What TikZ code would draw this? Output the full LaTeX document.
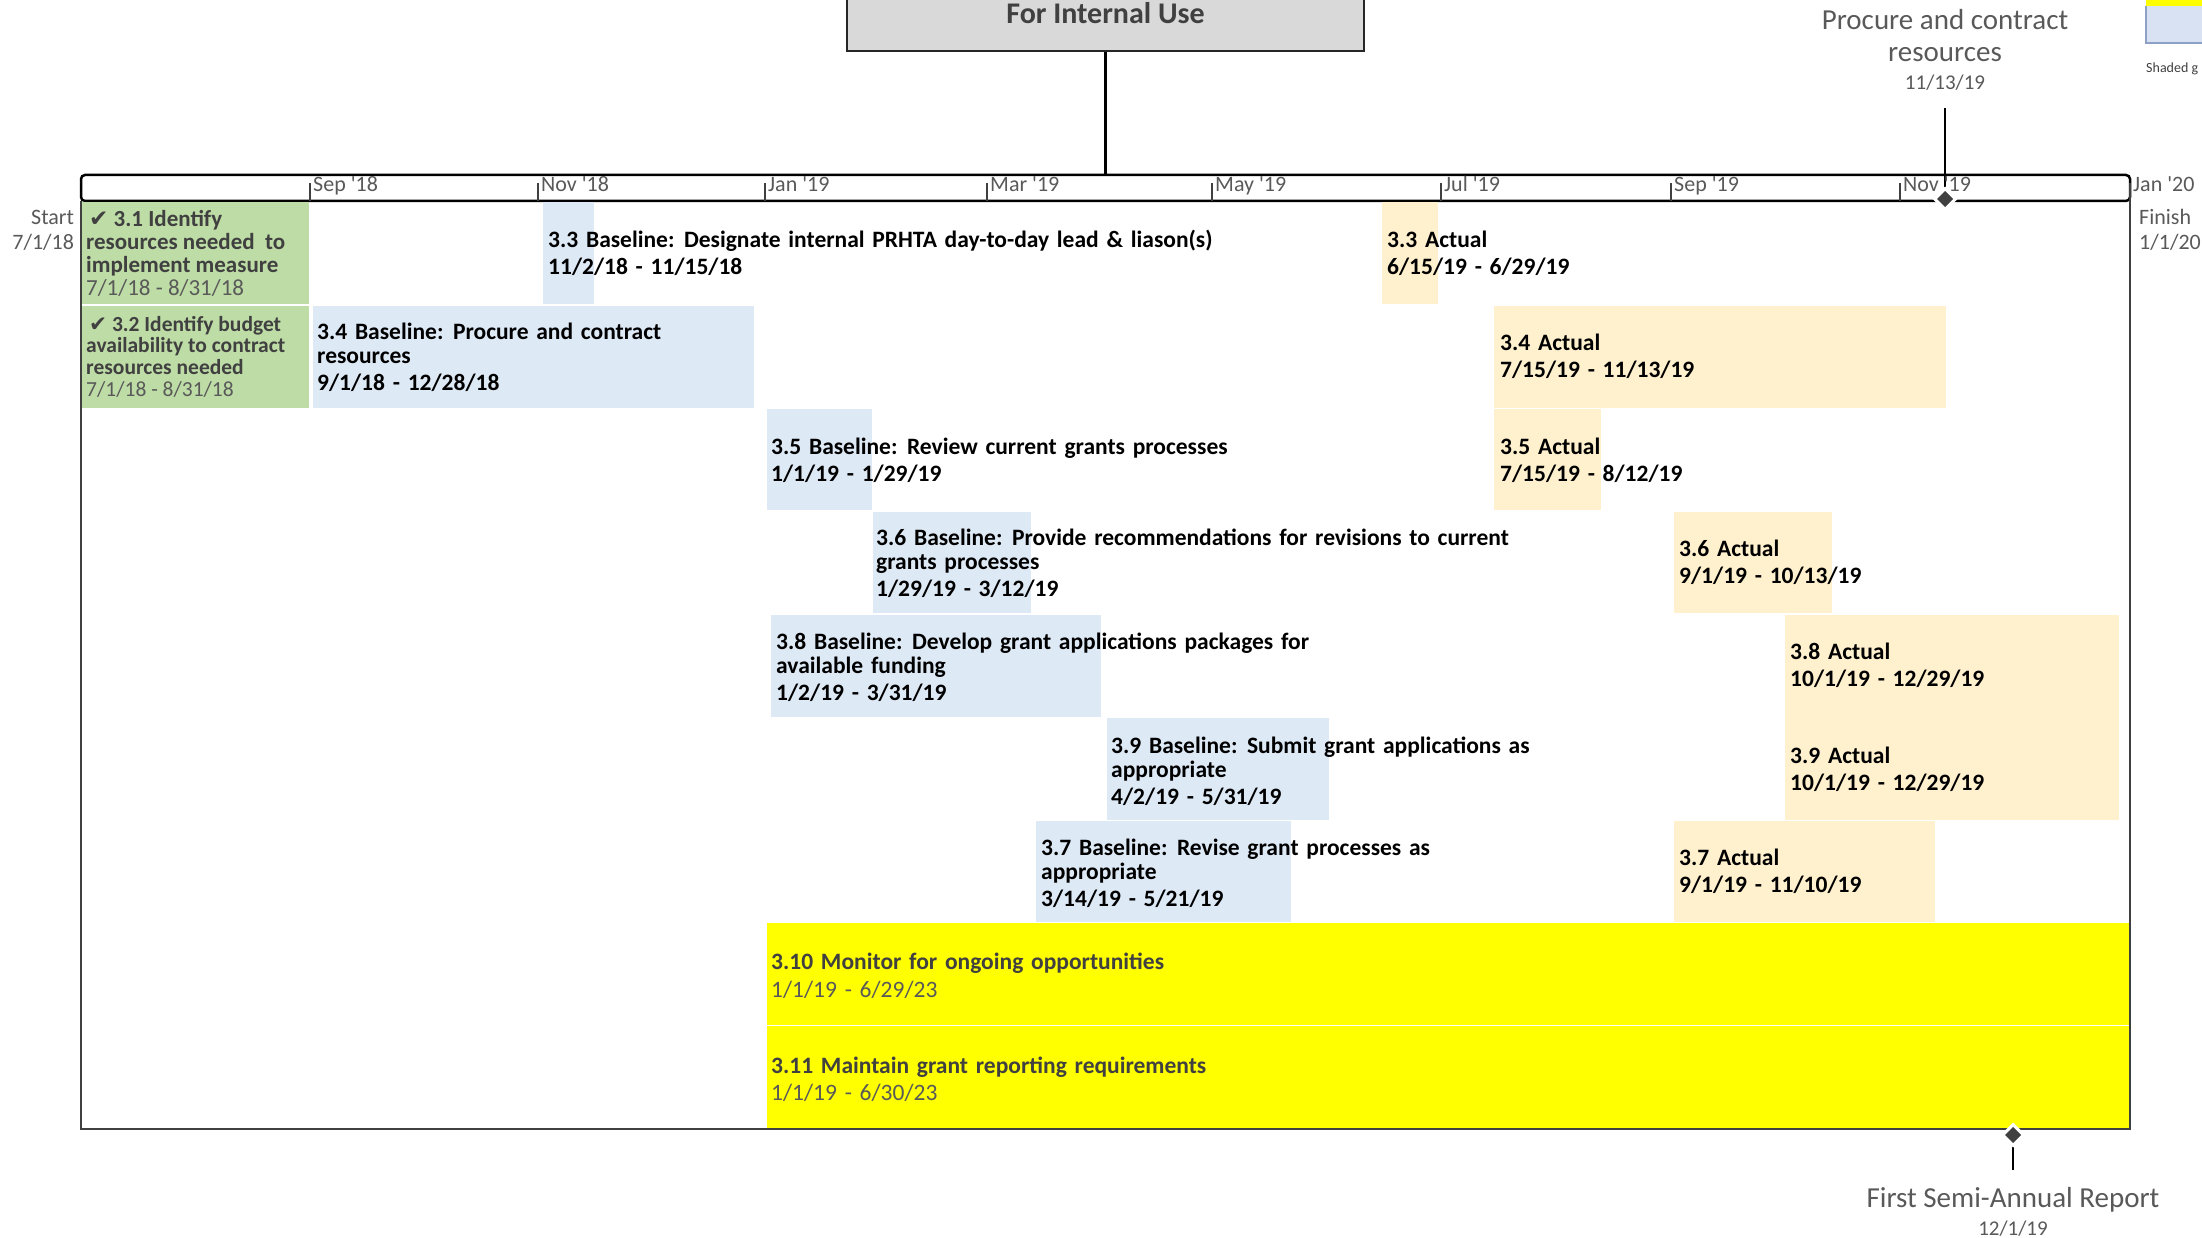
\documentclass[tikz,border=0pt]{standalone}
\usepackage{fontspec}
\setmainfont{Carlito}
\newfontfamily\symfont{DejaVu Sans}
\usetikzlibrary{shapes.geometric,backgrounds}
\definecolor{blbox}{RGB}{222,233,246}
\definecolor{acbox}{RGB}{255,241,206}
\definecolor{grbox}{RGB}{190,220,166}
\definecolor{ylbox}{RGB}{255,255,0}
\definecolor{gybox}{RGB}{217,217,217}
\definecolor{dtext}{RGB}{64,64,64}
\definecolor{mtext}{RGB}{89,89,89}
\definecolor{lgfill}{RGB}{216,226,242}
\definecolor{lgline}{RGB}{140,160,200}
\newcommand\tline[1]{\hbox{#1}}
\newcommand\dline[1]{\vskip3pt\hbox{#1}}
\newcommand\cenline[1]{\hbox to 0pt{\hss#1\hss}}
\newcommand\rgtline[1]{\hbox to 0pt{\hss#1}}
\newcommand\chk{{\symfont\bfseries\char"2714}}
\newcommand\widesp{\spaceskip=0.33em plus 0.1em minus 0.05em\relax}
\begin{document}
\begin{tikzpicture}[x=1pt,y=-1pt,
  boxn/.style={anchor=north west, inner sep=0pt, outer sep=0pt, draw=none},
  basebox/.style={boxn, fill=blbox},
  actbox/.style={boxn, fill=acbox},
  donebox/.style={boxn, fill=grbox},
  ongobox/.style={boxn, fill=ylbox},
  ttext/.style={anchor=base west, inner sep=0pt, font=\fontsize{23.5}{24}\selectfont\bfseries\widesp, text=black},
  gtext/.style={anchor=base west, inner sep=0pt, text=dtext},
  mlab/.style={anchor=base west, inner sep=0pt, font=\fontsize{22}{24}\selectfont, text=mtext},
  tickl/.style={draw=dtext, line width=1.5pt},
  frame/.style={draw=dtext, line width=2.5pt},
  conn/.style={draw=black, line width=2.5pt},
  ms/.style={diamond, fill=dtext, draw=white, line width=3pt, minimum size=22pt, inner sep=0pt},
  mslab/.style={anchor=base, inner sep=0pt, font=\fontsize{29}{32}\selectfont, text=mtext}
]
\useasboundingbox (0,0) rectangle (2202,1238);

% legend swatch (cut by the page edge)
\fill[lgfill] (2146,-2) rectangle (2210,43);
\fill[ylbox] (2146,-2) rectangle (2210,6);
\draw[lgline, line width=1.5pt] (2146,6) -- (2146,43) -- (2210,43);
\node[anchor=base west, inner sep=0pt, font=\fontsize{14}{16}\selectfont, text=dtext] (legtxt) at (2146,73) {Shaded g};

% For Internal Use
\node[anchor=south, draw=black!85, line width=2pt, fill=gybox, minimum width=517, minimum height=76, inner sep=0pt,
      font=\fontsize{30}{32}\selectfont\bfseries, text=dtext] (fiu) at (1105.5,52) {For Internal Use};

% timeline bar
\node[draw=black, line width=2.5pt, rounded corners=4pt, minimum width=2049, minimum height=26, inner sep=0pt, outer sep=0pt, anchor=north west] (bar) at (81,175) {};
\draw[conn] (fiu.south) -- (fiu.south |- bar.north);

\foreach \x/\lab [count=\i] in {310/Sep \textquotesingle 18, 538/Nov \textquotesingle 18, 765/Jan \textquotesingle 19, 987/Mar \textquotesingle 19, 1212/May \textquotesingle 19, 1441/Jul \textquotesingle 19, 1671/Sep \textquotesingle 19, 1900/Nov \textquotesingle 19, 2130/Jan \textquotesingle 20}{
  \draw[tickl] (\x,201) -- (\x,183);
  \node[mlab] (mon\i) at ({\x+3},192) {\lab};
}

% start / finish
\node[anchor=base, inner sep=0pt, font=\fontsize{22}{25}\selectfont, text=mtext] (startlab) at (74,225) {\vtop{\rgtline{Start}\rgtline{7/1/18}}};
\node[anchor=base west, inner sep=0pt, font=\fontsize{22}{25}\selectfont, text=mtext] (finlab) at (2139,225) {\vtop{\hbox{Finish}\hbox{1/1/20}}};

% task boxes
\node[donebox, minimum width=227, minimum height=102] (g31) at (82,202) {};
\node[donebox, minimum width=227, minimum height=102] (g32) at (82,306) {};
\node[basebox, minimum width=51, minimum height=102] (b33) at (543,202) {};
\node[actbox, minimum width=56, minimum height=102] (a33) at (1382,202) {};
\node[basebox, minimum width=441, minimum height=102] (b34) at (313,306) {};
\node[actbox, minimum width=452, minimum height=102] (a34) at (1494,306) {};
\node[basebox, minimum width=105, minimum height=101] (b35) at (767,409) {};
\node[actbox, minimum width=107, minimum height=101] (a35) at (1494,409) {};
\node[basebox, minimum width=158, minimum height=101] (b36) at (873,512) {};
\node[actbox, minimum width=158, minimum height=101] (a36) at (1674,512) {};
\node[basebox, minimum width=330, minimum height=102] (b38) at (771,615) {};
\node[actbox, minimum width=334, minimum height=205] (a38) at (1785,615) {};
\node[basebox, minimum width=222, minimum height=102] (b39) at (1107,718) {};
\node[basebox, minimum width=255, minimum height=101] (b37) at (1036,821) {};
\node[actbox, minimum width=261, minimum height=101] (a37) at (1674,821) {};
\node[ongobox, minimum width=1363, minimum height=102] (y310) at (767,923) {};
\node[ongobox, minimum width=1363, minimum height=103] (y311) at (767,1026) {};

% task texts
\node[gtext, font=\fontsize{23}{22.7}\selectfont] (t31) at (86,227) {\vtop{%
  \hbox{\bfseries\kern3pt\chk\ 3.1 Identify}\hbox{\bfseries resources needed\ \ to}\hbox{\bfseries implement measure}\hbox{\color{mtext}7/1/18 - 8/31/18}}};
\node[gtext, font=\fontsize{21.5}{21.7}\selectfont] (t32) at (86,331) {\vtop{%
  \hbox{\bfseries\kern3pt\chk\ 3.2 Identify budget}\hbox{\bfseries availability to contract}\hbox{\bfseries resources needed}\hbox{\color{mtext}7/1/18 - 8/31/18}}};
\node[ttext] (t33b) at (548,248) {\vtop{\tline{3.3 Baseline: Designate internal PRHTA day-to-day lead \& liason(s)}\dline{11/2/18 - 11/15/18}}};
\node[ttext] (t33a) at (1387,248) {\vtop{\tline{3.3 Actual}\dline{6/15/19 - 6/29/19}}};
\node[ttext] (t34b) at (317,340) {\vtop{\tline{3.4 Baseline: Procure and contract}\tline{resources}\dline{9/1/18 - 12/28/18}}};
\node[ttext] (t34a) at (1500,350) {\vtop{\tline{3.4 Actual}\dline{7/15/19 - 11/13/19}}};
\node[ttext] (t35b) at (771,454) {\vtop{\tline{3.5 Baseline: Review current grants processes}\dline{1/1/19 - 1/29/19}}};
\node[ttext] (t35a) at (1500,454) {\vtop{\tline{3.5 Actual}\dline{7/15/19 - 8/12/19}}};
\node[ttext] (t36b) at (876,545) {\vtop{\tline{3.6 Baseline: Provide recommendations for revisions to current}\tline{grants processes}\dline{1/29/19 - 3/12/19}}};
\node[ttext] (t36a) at (1679,556) {\vtop{\tline{3.6 Actual}\dline{9/1/19 - 10/13/19}}};
\node[ttext] (t38b) at (776,649) {\vtop{\tline{3.8 Baseline: Develop grant applications packages for}\tline{available funding}\dline{1/2/19 - 3/31/19}}};
\node[ttext] (t38a) at (1790,659) {\vtop{\tline{3.8 Actual}\dline{10/1/19 - 12/29/19}}};
\node[ttext] (t39a) at (1790,763) {\vtop{\tline{3.9 Actual}\dline{10/1/19 - 12/29/19}}};
\node[ttext] (t39b) at (1111,753) {\vtop{\tline{3.9 Baseline: Submit grant applications as}\tline{appropriate}\dline{4/2/19 - 5/31/19}}};
\node[ttext] (t37b) at (1041,855) {\vtop{\tline{3.7 Baseline: Revise grant processes as}\tline{appropriate}\dline{3/14/19 - 5/21/19}}};
\node[ttext] (t37a) at (1679,865) {\vtop{\tline{3.7 Actual}\dline{9/1/19 - 11/10/19}}};
\node[gtext, font=\fontsize{23.5}{24}\selectfont\widesp] (t310) at (771,969) {\vtop{\hbox{\bfseries 3.10 Monitor for ongoing opportunities}\vskip4pt\hbox{\color{mtext}1/1/19 - 6/29/23}}};
\node[gtext, font=\fontsize{23.5}{24}\selectfont\widesp] (t311) at (771,1073) {\vtop{\hbox{\bfseries 3.11 Maintain grant reporting requirements}\vskip3pt\hbox{\color{mtext}1/1/19 - 6/30/23}}};

% frame
\coordinate (fsw) at (81,1129);
\coordinate (fse) at (2130,1129);
\draw[frame] (bar.south west) -- (fsw) -- (fse) -- (bar.south east);

% milestones
\node[ms] (m1) at (1945,199) {};
\coordinate (m1top) at (1945,108);
\node[mslab] (m1lab) at (1945,30) {\vtop{\cenline{Procure and contract}\cenline{resources}\vskip-4pt\cenline{\fontsize{21}{22}\selectfont 11/13/19}}};
\node[ms] (m2) at (2013,1135) {};
\coordinate (m2bot) at (2013,1170);
\node[mslab] (m2lab) at (2013,1207) {\vtop{\cenline{First Semi-Annual Report}\vskip-4pt\cenline{\fontsize{21}{22}\selectfont 12/1/19}}};
\begin{scope}[on background layer]
  \draw[conn] (m1top) -- (m1.center);
  \draw[conn] (m2.center) -- (m2bot);
\end{scope}
\end{tikzpicture}
\end{document}
